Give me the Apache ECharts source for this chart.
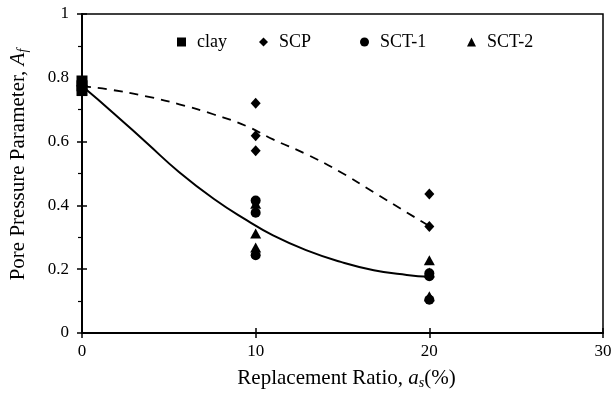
<!DOCTYPE html>
<html>
<head>
<meta charset="utf-8">
<script src="https://cdn.jsdelivr.net/npm/echarts@6/dist/echarts.min.js"></script>
<style>
  html, body { margin: 0; padding: 0; background: #fff; }
  #chart { width: 615px; height: 395px; }
</style>
</head>
<body>
<div id="chart"></div>
<script>
// Measured pore pressure parameter A_f against replacement ratio a_s (%)
const clay = [[0, 0.79], [0, 0.775], [0, 0.76]];
const scp = [[10, 0.72], [10, 0.618], [10, 0.571], [20, 0.436], [20, 0.334]];
const sct1 = [[10, 0.415], [10, 0.377], [10, 0.244], [20, 0.187], [20, 0.178], [20, 0.104]];
const sct2 = [[10, 0.405], [10, 0.312], [10, 0.268], [20, 0.228], [20, 0.19], [20, 0.115]];

// Trend curves drawn through the measured groups
const scpTrend = [[0, 0.774], [1.6, 0.763], [3.7, 0.742], [5.6, 0.717], [7.6, 0.685],
  [9.5, 0.648], [11, 0.607], [12.9, 0.561], [14.9, 0.504], [16.8, 0.441], [20, 0.335]];
const sctTrend = [[0, 0.774], [1.8, 0.69], [3.7, 0.597], [5.6, 0.504], [7.6, 0.42],
  [9.5, 0.353], [11, 0.306], [12.9, 0.26], [14.9, 0.223], [16.8, 0.197], [18.7, 0.182], [20, 0.176]];

const xTicks = [0, 10, 20, 30];
const yTicks = [0, 0.2, 0.4, 0.6, 0.8, 1];

// Legend entries: series name, icon, left position of the entry
const legendNames = ['clay', 'SCP', 'SCT-1', 'SCT-2'];
const legendIcons = ['rect', 'diamond', 'circle', 'triangle'];
const legendLeft = [177, 259, 360, 467];

const serif = '"Liberation Serif", "DejaVu Serif", serif';
const black = '#000';

const chart = echarts.init(document.getElementById('chart'), null, { renderer: 'canvas' });

const tickLabel = { fontFamily: serif, fontSize: 17, color: black };
const nameRich = {
  t: { fontFamily: serif, fontSize: 21, color: black },
  i: { fontFamily: serif, fontSize: 21, fontStyle: 'italic', color: black },
  s: { fontFamily: serif, fontSize: 14, fontStyle: 'italic', color: black, padding: [9, 0, 0, 0] }
};

const legends = legendNames.map((n, k) => ({
  top: 33, left: legendLeft[k], padding: 0, itemGap: 0,
  itemWidth: 9, itemHeight: 9, itemStyle: { opacity: 1 },
  data: [{ name: n, icon: legendIcons[k] }],
  textStyle: { fontFamily: serif, fontSize: 18, color: black, padding: [0, 0, 0, 6] }
}));

chart.setOption({
  animation: false,
  backgroundColor: '#fff',
  grid: {
    left: 82, right: 12, top: 14, bottom: 60,
    show: true, borderColor: black, borderWidth: 1.5, backgroundColor: 'transparent'
  },
  legend: legends,
  xAxis: [{
    type: 'value', min: xTicks[0], max: xTicks[xTicks.length - 1], interval: 10,
    name: '{t|Replacement Ratio, }{i|a}{s|s}{t|(%)}',
    nameLocation: 'middle', nameGap: 34,
    nameTextStyle: { rich: nameRich, padding: [0, 0, 0, 8] },
    axisLine: { show: true, onZero: false, lineStyle: { color: black, width: 2 } },
    axisTick: { show: true, length: 5, lineStyle: { color: black, width: 1.5 } },
    axisLabel: Object.assign({ margin: 10 }, tickLabel),
    splitLine: { show: false }
  }, {
    type: 'value', min: xTicks[0], max: xTicks[xTicks.length - 1], interval: 10,
    position: 'bottom',
    axisLine: { show: false },
    axisTick: { show: true, inside: true, length: 5, lineStyle: { color: black, width: 1.5 } },
    axisLabel: { show: false },
    splitLine: { show: false }
  }],
  yAxis: [{
    type: 'value', min: yTicks[0], max: yTicks[yTicks.length - 1], interval: 0.2,
    name: '{t|Pore Pressure Parameter, }{i|A}{s|f}',
    nameLocation: 'middle', nameRotate: 90, nameGap: 52,
    nameTextStyle: { rich: nameRich, padding: [0, 0, 0, 18] },
    axisLine: { show: true, onZero: false, lineStyle: { color: black, width: 2 } },
    axisTick: { show: true, length: 5, lineStyle: { color: black, width: 1.5 } },
    minorTick: { show: true, splitNumber: 2, length: 4, lineStyle: { color: black, width: 1.2 } },
    axisLabel: Object.assign({ margin: 13 }, tickLabel),
    splitLine: { show: false }
  }, {
    type: 'value', min: yTicks[0], max: yTicks[yTicks.length - 1], interval: 0.2,
    position: 'left',
    axisLine: { show: false },
    axisTick: { show: true, inside: true, length: 5, lineStyle: { color: black, width: 1.5 } },
    axisLabel: { show: false },
    splitLine: { show: false }
  }],
  series: [
    {
      name: 'SCP trend', type: 'line', data: scpTrend, smooth: true, symbol: 'none',
      lineStyle: { color: black, width: 1.8, type: [9, 7] }, z: 2
    },
    {
      name: 'SCT trend', type: 'line', data: sctTrend, smooth: true, symbol: 'none',
      lineStyle: { color: black, width: 2 }, z: 2
    },
    { name: 'clay', type: 'scatter', data: clay, symbol: 'rect', symbolSize: 11,
      itemStyle: { color: black, opacity: 1 }, z: 3 },
    { name: 'SCP', type: 'scatter', data: scp, symbol: 'diamond', symbolSize: [10, 11],
      itemStyle: { color: black, opacity: 1 }, z: 3 },
    { name: 'SCT-1', type: 'scatter', data: sct1, symbol: 'circle', symbolSize: 10,
      itemStyle: { color: black, opacity: 1 }, z: 3 },
    { name: 'SCT-2', type: 'scatter', data: sct2, symbol: 'triangle', symbolSize: [11, 10],
      itemStyle: { color: black, opacity: 1 }, z: 3 }
  ]
});
</script>
</body>
</html>
